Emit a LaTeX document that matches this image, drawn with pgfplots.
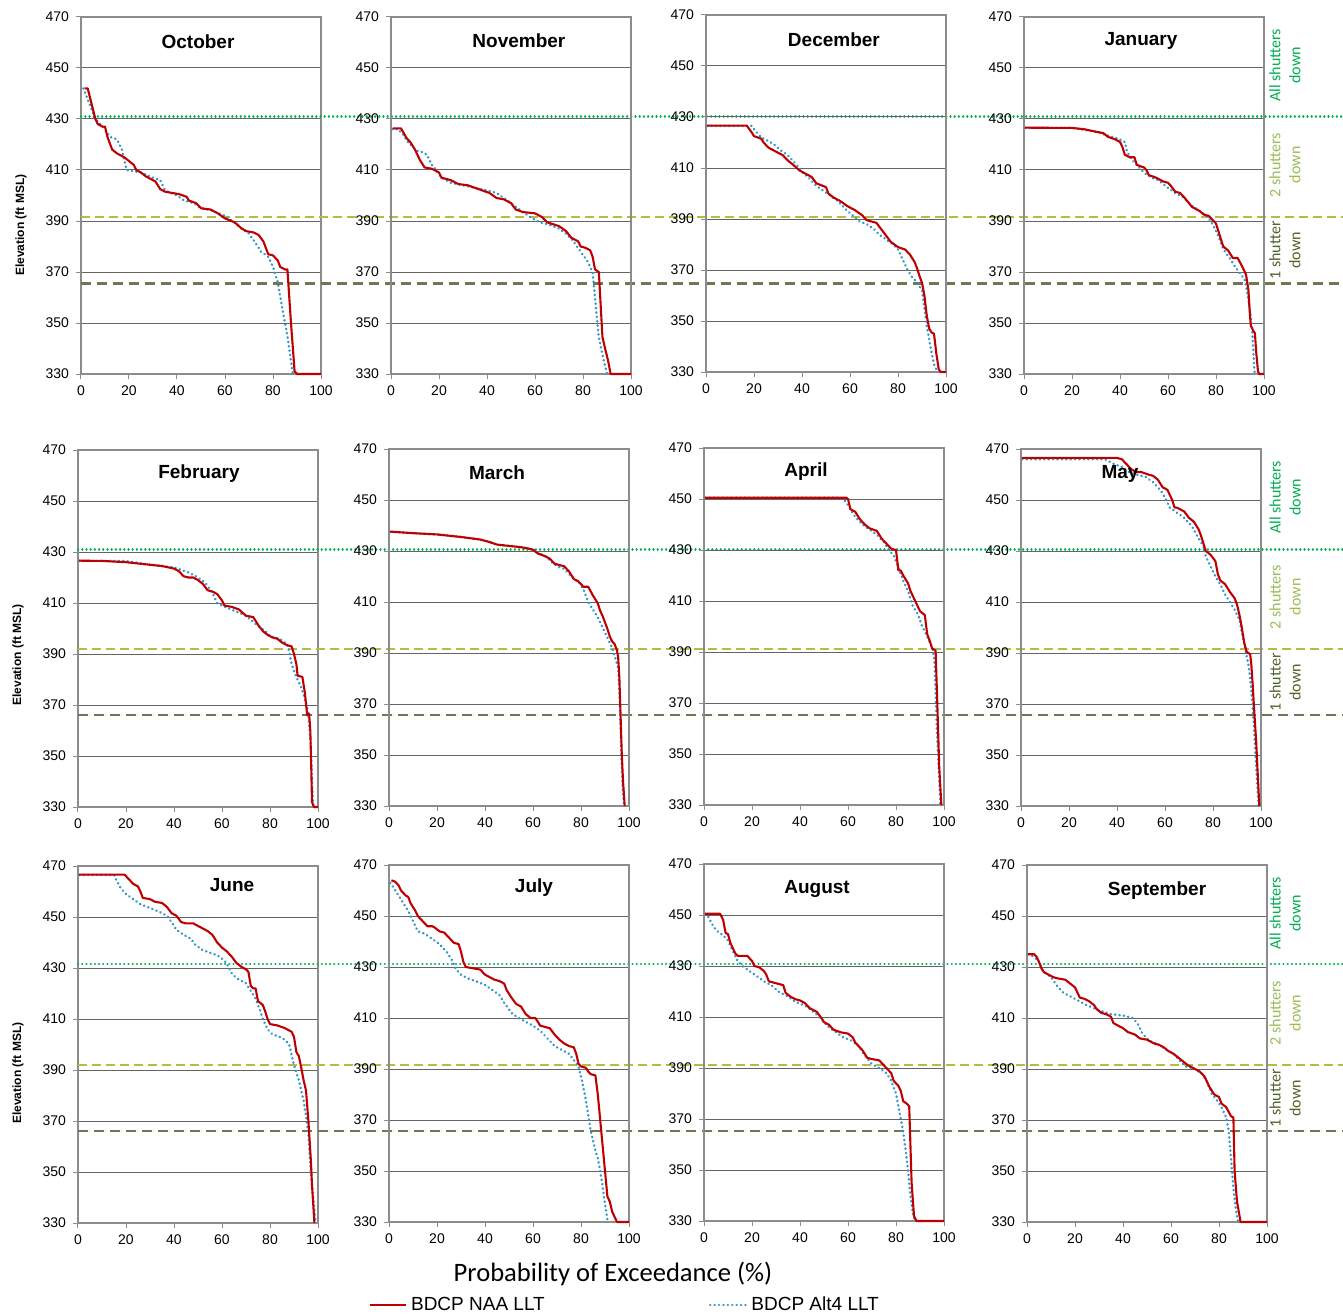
\documentclass[border=0pt]{standalone}
\usepackage{pgfplots}
\pgfplotsset{compat=1.18}
\usepackage{fontspec}
\setmainfont{Liberation Sans}
\newfontfamily\calibri{Carlito}
\definecolor{naared}{RGB}{192,0,0}
\definecolor{altblue}{RGB}{50,150,200}
\definecolor{allgreen}{RGB}{0,176,80}
\definecolor{twoyel}{RGB}{184,186,70}
\definecolor{onedark}{RGB}{115,118,80}
\definecolor{lbltwo}{RGB}{155,187,89}
\definecolor{lblone}{RGB}{79,98,40}
\definecolor{gridc}{RGB}{100,100,100}
\definecolor{axc}{RGB}{140,140,140}
\pgfplotsset{
 pan/.style={
  scale only axis, width=120pt, height=178.5pt,
  xmin=0,xmax=100,ymin=330,ymax=470,
  xtick={0,20,...,100}, ytick={330,350,...,470},
  ymajorgrids, grid style={gridc, line width=0.5pt},
  axis line style={axc, line width=0.6pt},
  tick style={axc, line width=0.5pt},
  tick align=outside, major tick length=2.5pt,
  tick pos=left,
  ticklabel style={font=\fontsize{7}{8}\selectfont},
  /pgf/number format/assume math mode=true,
  clip=false, anchor=south west,
 },
 naa/.style={naared, line width=1.05pt, line join=round},
 alt/.style={altblue, line width=1.3pt, dash pattern=on 0.1pt off 2.1pt, line cap=round},
 refa/.style={allgreen, line width=1.1pt, dash pattern=on 0.1pt off 2pt, line cap=round},
 refb/.style={twoyel, line width=1.1pt, dash pattern=on 4.5pt off 2.5pt},
 refc/.style={onedark, line width=1.2pt, dash pattern=on 5pt off 3pt},
}
\newcommand\ttl[3]{\node[font=\fontsize{9.5}{11}\selectfont\bfseries] at (rel axis cs:#1,#2) {#3};}
\newcommand\ylab[1]{\node[rotate=90,font=\fontsize{6}{7}\selectfont\bfseries] at (rel axis cs:-0.25,#1) {Elevation (ft MSL)};}
\newcommand\rlab[1]{%
 \node[rotate=90,align=center,font=\calibri\fontsize{8}{10}\selectfont,text=allgreen] at (axis cs:#1,451) {All shutters\\down};
 \node[rotate=90,align=center,font=\calibri\fontsize{8}{10}\selectfont,text=lbltwo] at (axis cs:#1,412) {2 shutters\\down};
 \node[rotate=90,align=center,font=\calibri\fontsize{8}{10}\selectfont,text=lblone] at (axis cs:#1,378.5) {1 shutter\\down};}
\begin{document}
\begin{tikzpicture}
% ---------------- Row 1 ----------------
\begin{axis}[pan, at={(40.5pt,-187pt)}]
\addplot[refa] coordinates {(0,431) (526,431)};
\addplot[refb] coordinates {(0,391.5) (526,391.5)};
\addplot[refc] coordinates {(0,365.5) (526,365.5)};
\addplot[alt] coordinates {(1,442)(6,430)(8,428)(10,426)(12,423)(15,422)(17,418)(19,410)(22,409.5)(25,409)(30,407)(33,406)(35,402)(40,400)(43,398)(47,397)(50,395)(55,394)(60,392)(63,390)(67,387)(70,385)(73,381)(75,378)(78,376)(80,372)(82,366)(84,355)(86,345)(87.5,335)(88.3,330)};
\addplot[naa] coordinates {(1.5,442)(2.8,442)(6,430)(7,428)(9,427)(10,427)(11,423)(13,418)(15,416.5)(18,415)(20,413.5)(22,412)(23,410)(25,409)(27,407.5)(29,406.5)(31,405.5)(33,402.5)(35,401.5)(38,401)(41,400.5)(44,399.5)(45,398)(48,397)(50,395)(54,394.5)(57,393)(60,391)(64,389.5)(67,387)(69,386)(72,385.5)(74,384.5)(76,382)(78,377)(80,376.5)(82,374.5)(83,372)(85,371)(86,371)(87.5,350)(89,331)(90,330)(100,330)};
\ttl{0.4875}{0.93}{October}
\ylab{0.417}
\end{axis}
\begin{axis}[pan, at={(195.5pt,-187pt)}]
\addplot[alt] coordinates {(0.5,426)(3,426)(5,424)(7,421)(9,419)(11,417.5)(13,417)(15,416)(17,412)(19,410)(21,407)(25,405)(30,404)(35,403)(40,402)(44,401)(47,399)(50,397)(55,393.5)(58,391.5)(62,389.5)(66,388.5)(70,387)(73,385)(76,382)(79,378)(82,374)(84,370)(85.5,355)(86.5,345)(88,338)(90,330)};
\addplot[naa] coordinates {(0.8,426.3)(4.2,426.3)(6.5,422.5)(8,421)(10,418)(12,414)(14,411)(17,410.5)(20,409)(21,407)(25,406)(28,404.5)(32,404)(35,403)(38,402)(41,401)(44,399)(47,398.5)(50,397)(52,394.5)(55,393.5)(60,393)(63,391.5)(65,389.5)(70,388)(73,386)(75,383.5)(78,382)(79,380)(81,379.5)(83,378.5)(84,376)(85,371)(86.6,370)(87.3,358)(88.1,344.5)(89.2,340)(90.5,335)(91.5,330)(100,330)};
\ttl{0.533}{0.933}{November}
\end{axis}
\begin{axis}[pan, at={(353pt,-186pt)}]
\addplot[alt] coordinates {(0.5,426.5)(19,426.5)(21,424)(23,422)(25,421)(28,419.5)(31,417)(34,415)(36,413)(38,411)(40,408.5)(43,406)(46,403)(49,401)(52,399)(55,397)(58,394)(61,391.5)(64,389)(67,388)(70,386)(72,384)(75,382)(78,380)(80,378)(82,374)(84,370)(86,367)(88,365)(90,362)(91,355)(92,348)(93.5,340)(95,333)(96.5,330)};
\addplot[naa] coordinates {(0.5,426.6)(17,426.6)(19,424)(20,422.5)(23,421.5)(24,420)(26,418)(29,416.5)(32,415)(34,413)(36,411.5)(39,409)(41,408)(44,406.5)(46,404)(50,402.5)(51,400)(53,398.5)(56,397)(59,395)(62,393.5)(65,391.5)(67,389.5)(71,388.5)(73,386)(75,383.5)(77,381)(80,379)(83,378)(85,376)(87,373)(88,370.5)(89,367.5)(90,365)(91,360)(92,352)(93,347)(94,345.5)(95,345)(96,337)(97,331)(97.8,330)(100,330)};
\ttl{0.533}{0.93}{December}
\end{axis}
\begin{axis}[pan, at={(512pt,-187pt)}]
\addplot[alt] coordinates {(0.5,426.5)(20,426.5)(30,425)(35,423.5)(40,422)(42,421)(43,417)(45,414)(48,411)(50,409)(53,407)(56,406)(60,403)(63,401)(66,399.5)(70,396)(74,393.5)(77,391)(79,388)(81,384)(83,379)(86,375)(88,372)(90,369.5)(92,367)(93,362)(94,356)(95,348)(95.5,340)(96,331)(96.5,330)};
\addplot[naa] coordinates {(0.5,426.6)(20,426.5)(25,426)(30,425)(33,424.5)(35,423)(38,422)(40,421)(41,419)(42,416)(44,415)(46,415)(47,412)(50,411)(51,410)(52,408)(55,407)(58,405.5)(60,405)(61,404)(63,401.5)(65,401)(67,399)(70,395.5)(73,394)(75,392.5)(77,392)(79,390)(80,389)(81,386)(82,383)(83,380)(85,378.5)(87,375.5)(89,375.5)(91,372)(92.5,369)(93.5,363)(94,355)(94.5,349)(95.5,347)(96.2,346)(96.8,338)(97.5,331)(98,330)(100,330)};
\ttl{0.4875}{0.933}{January}
\rlab{108.7}
\end{axis}
% ---------------- Row 2 ----------------
\begin{axis}[pan, at={(39pt,-403.5pt)}]
\addplot[refa] coordinates {(0,431) (527,431)};
\addplot[refb] coordinates {(0,392) (527,392)};
\addplot[refc] coordinates {(0,366) (527,366)};
\addplot[alt] coordinates {(0.5,426.5)(20,426.5)(30,425)(40,424)(43,423)(46,422)(50,420)(53,418)(56,414)(58,410)(60,409)(65,407)(70,405)(75,401)(78,399)(80,397)(84,396)(87,394)(88,391)(89,386)(91,381)(93,377)(94,374)(95.5,369)(96,366)(97,355)(97.5,340)(98,330)};
\addplot[naa] coordinates {(0.5,426.6)(10,426.5)(20,426)(25,425.5)(30,425)(35,424.5)(40,423.5)(42,422.5)(44,420.5)(46,420)(48,420)(50,419)(52,417.5)(54,415)(56,414.5)(58,413.5)(60,411)(61,409)(64,408.5)(67,407.5)(70,405)(73,404.5)(75,401.5)(77,399)(79,397.5)(81,396.5)(83,396)(85,394.5)(87,393.5)(89,393)(90,390)(91,386)(91.5,381.5)(93.5,381)(94.5,375)(95.5,366)(96.3,366.5)(96.8,360)(97.2,345)(97.5,332)(98.3,330)(100,330)};
\ttl{0.504}{0.933}{February}
\ylab{0.426}
\end{axis}
\begin{axis}[pan, at={(194.5pt,-403pt)}]
\addplot[alt] coordinates {(0.5,437.5)(10,437)(20,436.5)(30,435.5)(38,434.5)(42,433.5)(45,432.5)(50,432)(55,431.5)(60,430.5)(65,428)(68,425.5)(70,424)(73,423)(76,420)(79,418)(81,415)(83,410)(85,407)(87,404)(89,400)(91,396)(93,392)(94,389)(95.5,384)(96,375)(96.5,360)(97,345)(97.5,335)(98,330)};
\addplot[naa] coordinates {(0.5,437.6)(10,437)(20,436.5)(30,435.5)(38,434.5)(42,433.5)(45,432.5)(50,432)(55,431.5)(58,431)(60,430.5)(62,429)(65,428)(67,427)(69,425)(71,424.5)(73,424)(75,422)(77,419)(79,418)(81,416)(83,416)(85,412.5)(86,411)(87,409.5)(88,406.5)(89,404.5)(90,402)(91,399.5)(92,396.5)(93,394.5)(94,393.5)(95,391)(95.5,388)(96,380)(96.5,365)(97,350)(97.5,340)(98.2,330)};
\ttl{0.45}{0.933}{March}
\end{axis}
\begin{axis}[pan, at={(352pt,-402.5pt)}]
\addplot[alt] coordinates {(0.5,450.5)(57,450.5)(59,449)(61,446)(63,443)(66,440)(69,438)(72,436)(75,433)(77,430)(79,428)(81,423)(83,418)(85,414)(87,408)(89,405)(91,400)(93,396)(95,392)(96,387)(96.5,375)(97,360)(98,340)(98.5,330)};
\addplot[naa] coordinates {(0.5,450.5)(59.3,450.5)(60,450)(61,446)(63,445)(65,442)(67,440)(69,438.5)(72,437.5)(74,434.5)(76,432.5)(78,430.5)(80,430)(81,422)(82,422)(83,420)(85,417)(86,414)(88,410)(90,406)(92,404.5)(93,397)(94,394.5)(95,391.5)(96.5,390.5)(97.2,370)(98,345)(98.9,330)};
\ttl{0.425}{0.933}{April}
\end{axis}
\begin{axis}[pan, at={(510.5pt,-403pt)}]
\addplot[alt] coordinates {(0.5,466)(35,466)(37,465)(39,464)(42,463)(45,461)(48,460)(52,459)(55,457)(58,454)(60,451)(62,447)(65,445)(68,443)(71,440)(74,435)(76,432)(77,428)(79,424)(81,420)(83,417)(85,413)(87,410)(89,407)(91,403)(92,398)(93,394)(94,389)(95,384)(96,375)(97,362)(98,345)(99,330)};
\addplot[naa] coordinates {(0.5,466.5)(38,466.5)(40,466.5)(42,466)(44,464)(46,462)(48,461)(50,461)(53,460)(55,459.5)(57,458)(59,455)(61,454)(62,452)(63,450)(64,447)(65,447)(68,445.5)(70,443)(72,441.5)(74,438.5)(75,436)(76,433)(77,430)(79,428.5)(81,426)(82,421)(83,418.5)(85,417)(87,414)(89,411.5)(90,409)(91,405)(92,400)(93,394)(94,390.5)(95.5,389.5)(96,385)(96.5,378)(97,370)(98,355)(98.5,345)(99.3,330)};
\ttl{0.4125}{0.93}{May}
\rlab{110}
\end{axis}
% ---------------- Row 3 ----------------
\begin{axis}[pan, at={(39pt,-611.5pt)}]
\addplot[refa] coordinates {(0,431.5) (527,431.5)};
\addplot[refb] coordinates {(0,392) (527,392)};
\addplot[refc] coordinates {(0,366) (527,366)};
\addplot[alt] coordinates {(0.5,466.5)(15,466.5)(16,464.5)(18,461)(20,459)(23,457)(26,455)(30,453.5)(34,452)(37,450.5)(39,448)(41,445)(44,443)(47,441.5)(49,439)(52,437)(55,436)(58,435)(61,433)(63,430)(64,428)(66,426)(68,425)(70,424)(72,421)(74,418)(76,413)(77,410)(78,408)(79,406)(81,404)(84,403)(86,402)(88,400)(89,396)(90,392)(91,389)(92,386)(93,382)(94,378)(95,372)(96,365)(97,350)(98,340)(99,330)};
\addplot[naa] coordinates {(0.5,466.6)(19.4,466.6)(21,465)(23,463)(25,462)(26,460)(27,457.5)(30,457)(32,456)(35,455.5)(37,454)(39,451.5)(41,450.5)(43,448)(45,447.5)(48,447.5)(51,446)(54,444.5)(56,443)(58,440)(60,438)(62,436.5)(64,434.5)(66,432)(68,430.5)(70,429.5)(71,428.5)(72,423)(73,422)(74,422)(75,417)(77,415.5)(78,413)(79,410)(80,408)(83,407.5)(86,406.5)(89,405)(90,403)(91,397)(92,395.5)(93,391)(94,386)(95,382)(96,370)(97,355)(97.5,345)(98.5,330)};
\ttl{0.642}{0.947}{June}
\ylab{0.42}
\end{axis}
\begin{axis}[pan, at={(194.5pt,-611pt)},
  legend columns=2,
  legend style={at={(-0.085,-0.2325)},anchor=west,draw=none,fill=none,inner sep=0pt,
    font=\fontsize{9.5}{11}\selectfont,
    /tikz/every even column/.append style={column sep=80pt}},
  legend image code/.code={\draw[#1] (0pt,0pt) -- (18pt,0pt);}]
\addlegendimage{naa}\addlegendentry{BDCP NAA LLT}
\addlegendimage{alt}\addlegendentry{BDCP Alt4 LLT}
\addplot[alt,forget plot] coordinates {(0.5,463)(2,461)(4,458)(6,455)(8,452)(10,448)(12,444)(15,443)(18,441)(21,439)(24,436)(26,433)(28,429)(30,427)(33,425.5)(36,424.5)(40,423)(43,421)(46,419)(48,416)(51,412)(54,410)(57,408.5)(60,407)(63,405)(66,402)(69,399)(72,397.5)(75,396)(77,393.5)(79,391)(80.5,385)(82,378)(83,372)(84,366)(85,362)(86,358)(87,355)(88,350)(89,344)(90,337)(91,331)(92,330)};
\addplot[naa,forget plot] coordinates {(1,464)(2.5,463.5)(4,462)(5,460)(7,458)(8,457.5)(9,455)(10,453.5)(11,452)(12,450)(14,448)(16,446)(18,446)(19,445.5)(21,444)(23,443.5)(25,441.5)(27,439.5)(29,439)(30,436)(31,432)(32,430)(35,429.5)(38,429)(40,427)(42,426)(44,425)(46,424.5)(48,423.5)(49,421)(51,418)(53,415.5)(55,414.5)(57,411.5)(59,410)(61,410)(63,407)(65,406.5)(67,406)(69,403.5)(71,401.5)(73,400)(75,399)(77,398.5)(78,396)(79,392)(80,391)(82,390.5)(83,389)(84,388)(86,387.5)(87,380)(88,370)(89,360)(90,350)(91,340)(92,338)(93,334)(95,330)(100,330)};
\ttl{0.604}{0.938}{July}
\end{axis}
\begin{axis}[pan, at={(352pt,-610.5pt)}]
\addplot[alt] coordinates {(0.5,450.5)(2,449)(3,447)(5,444)(8,442)(10,440)(12,436)(14,432)(16,430)(19,428)(22,426)(25,424)(28,422.5)(31,420)(35,418)(38,416)(42,414.5)(45,412.5)(48,410)(52,406)(55,404)(58,402)(61,401)(64,399)(67,395)(70,391.5)(73,390)(76,388)(78,385)(80,380)(81,375)(82,370)(83,365)(84,358)(85,350)(86,340)(87,333)(88,330)};
\addplot[naa] coordinates {(0.5,450.5)(6.6,450.5)(7,450)(8,448)(9,443)(10,442.5)(11,439)(12,437)(13,435)(14,434)(16,434)(18,434)(19,433)(20,432)(21,430)(23,429.5)(25,428)(26,426.5)(27,424)(29,423.5)(31,423)(33,422.5)(34,419.5)(36,418)(38,417)(40,416.5)(42,415.5)(44,413.5)(47,412)(49,409.5)(50,408)(52,407)(54,405)(57,404)(60,403.5)(62,402)(63,400)(65,398)(66,397)(68,394)(70,393.5)(73,393)(74,392)(76,390)(78,388)(79,385)(81,383)(82,381)(83,377)(84.5,376)(85.5,375)(86,360)(86.5,345)(87.5,332)(88.5,330)(100,330)};
\ttl{0.471}{0.93}{August}
\end{axis}
\begin{axis}[pan, at={(513.5pt,-611pt)}]
\addplot[alt] coordinates {(0.5,435)(3,434)(5,432)(7,428)(10,426)(13,422)(15,420)(18,418.5)(21,417)(25,415)(30,413)(35,411.5)(40,411)(44,410)(46,408)(48,404)(51,401)(55,399.5)(58,397.5)(61,396)(64,393)(66,391)(70,390)(73,388)(75,385)(77,380)(79,378)(81,375)(83,371)(84,366)(85,355)(86,343)(87,335)(88,330)};
\addplot[naa] coordinates {(0.5,435)(3,435)(4,434)(5,432)(6,429.5)(7,428)(9,427)(11,426)(13,425.5)(16,425)(18,423.5)(20,422)(21,420)(22,418)(24,417.5)(26,416.5)(28,415)(29,413.5)(31,412)(33,411.5)(35,410.5)(36,408)(38,407)(40,406)(42,404.5)(45,403.5)(47,402)(50,401.5)(53,400)(55,399.5)(57,398.5)(59,397)(61,396)(63,394.5)(65,393)(67,391.5)(70,390)(72,389)(74,387)(76,383)(78,380)(80,379)(81,376.5)(83,375)(85,371.5)(86,371)(86.5,350)(87.5,338)(89,330)(100,330)};
\ttl{0.542}{0.927}{September}
\rlab{107.5}
\end{axis}
\node[font=\calibri\fontsize{13.3}{15}\selectfont] at (306.5pt,-637pt) {Probability of Exceedance (\%)};
\pgfresetboundingbox
\path[use as bounding box] (0pt,0pt) rectangle (671.5pt,-658pt);
\end{tikzpicture}
\end{document}
